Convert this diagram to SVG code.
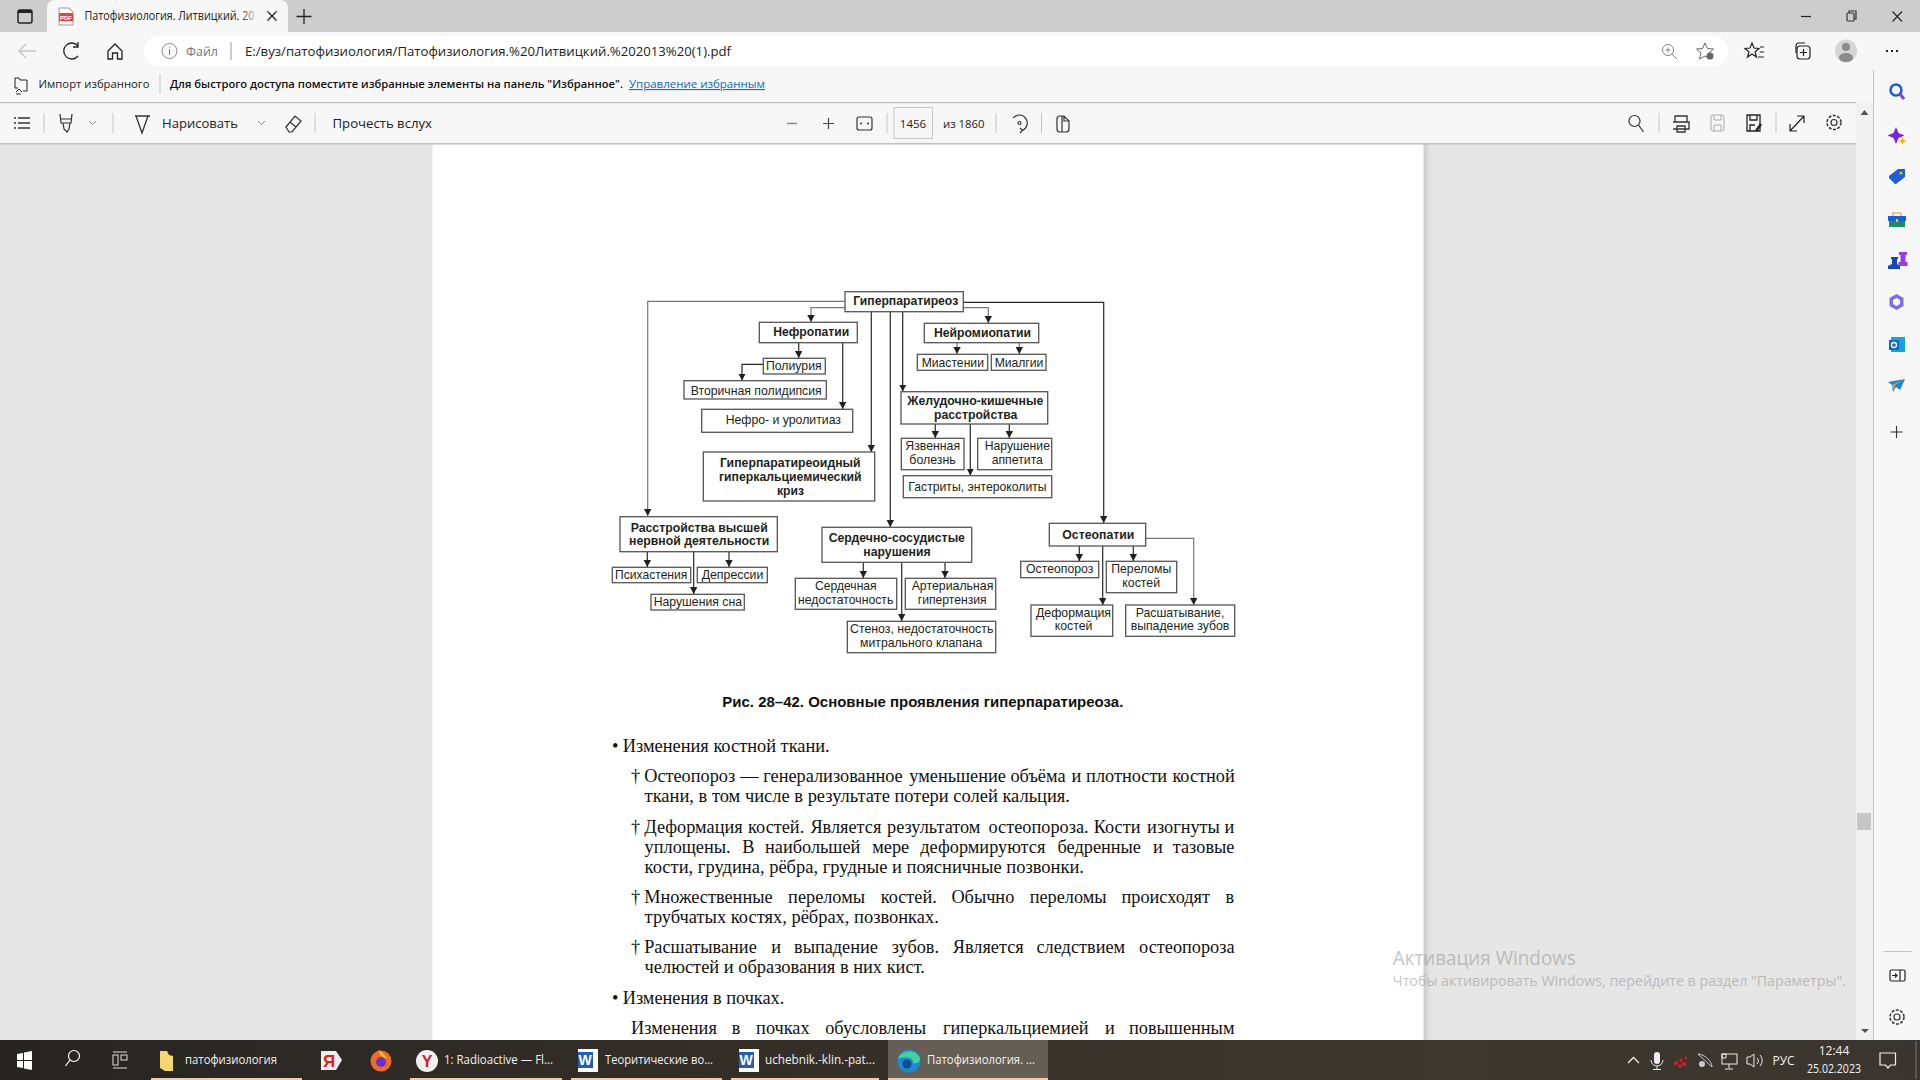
<svg xmlns="http://www.w3.org/2000/svg" width="1920" height="1080" viewBox="0 0 1920 1080">
<defs>
<marker id="ah" markerUnits="userSpaceOnUse" markerWidth="8" markerHeight="8" refX="7" refY="3.7" orient="auto"><path d="M0 0L7 3.7L0 7.4Z" fill="#231f20"/></marker>
<linearGradient id="tb" x1="0" x2="1" y1="0" y2="0"><stop offset="0" stop-color="#262522"/><stop offset=".35" stop-color="#332d26"/><stop offset=".75" stop-color="#3e372d"/><stop offset="1" stop-color="#39352e"/></linearGradient>
<linearGradient id="sh" x1="0" x2="1" y1="0" y2="0"><stop offset="0" stop-color="#c9c9c9"/><stop offset="1" stop-color="#e6e6e6"/></linearGradient>
<linearGradient id="fade" x1="0" x2="1" y1="0" y2="0"><stop offset="0" stop-color="#f7f7f7" stop-opacity="0"/><stop offset="1" stop-color="#f7f7f7"/></linearGradient>
</defs>
<style>
.ui{font-family:"Open Sans","Noto Sans",sans-serif;fill:#222}
.bx{fill:#fff;stroke:#555;stroke-width:1.3}
.n{font-family:"Liberation Sans",Arial,sans-serif;font-size:13px;fill:#231f20;text-anchor:middle}
.b{font-weight:700}
.c{fill:none;stroke:#2a2728;stroke-width:1.2;marker-end:url(#ah)}
.g{stroke:#777}
.t{font-family:"Liberation Serif","Times New Roman",serif;font-size:18.3px;fill:#111}
.ic{fill:none;stroke:#333;stroke-width:1.2}
.sep{stroke:#c4c4c4;stroke-width:1}
.tbt{font-family:"Open Sans","Noto Sans",sans-serif;font-size:12px;fill:#f2f2f2}
.wm{font-family:"Open Sans","Noto Sans",sans-serif;fill:#8f8f8f;opacity:.5}
</style>
<rect width="1920" height="1080" fill="#e6e6e6"/>
<g id="page"><rect x="1423" y="144" width="8" height="896" fill="url(#sh)"/><rect x="432.500" y="144" width="991" height="896" fill="#fff"/></g>
<g id="chrome">
<rect width="1920" height="32" fill="#cdcdcd"/>
<rect y="32" width="1920" height="71" fill="#f7f7f7"/>
<rect y="102" width="1856" height="1.500" fill="#c0c0c0"/>
<rect y="103.500" width="1856" height="40" fill="#f7f7f7"/>
<rect y="143" width="1856" height="1.500" fill="#c0c0c0"/>
<rect x="1856" y="103" width="17.500" height="937" fill="#f1f1f1"/>
<rect x="1857" y="813" width="14" height="17" fill="#c6c6c6"/>
<rect x="1873.500" y="66" width="46.500" height="974" fill="#f7f7f7"/>
<rect x="1873" y="70" width="1" height="970" fill="#c4c4c4"/>
<path d="M47 32V8a8 8 0 0 1 8-8H280a8 8 0 0 1 8 8V32Z" fill="#f7f7f7"/>
<rect x="144" y="36" width="1584" height="30" rx="15" fill="#fff"/>
</g>
<g id="tabbar">
<rect x="18" y="10" width="14" height="13" rx="2" class="ic" style="stroke:#222;stroke-width:1.500"/><rect x="18" y="10" width="14" height="3" fill="#222"/>
<path d="M59 8h10l4 4v13H59Z" fill="#fff" stroke="#999"/><rect x="59" y="13" width="14" height="8" fill="#e8403a"/>
<text x="66" y="20" font-family="Liberation Sans" font-size="6" font-weight="700" fill="#fff" text-anchor="middle">PDF</text>
<text class="ui" x="84.500" y="20" font-size="12" textLength="170" lengthAdjust="spacingAndGlyphs">Патофизиология. Литвицкий. 20</text>
<rect x="240" y="3" width="20" height="28" fill="url(#fade)"/>
<path d="M267.500 11.500l9 9m0-9l-9 9M304 9v15M296.500 16.500h15" stroke="#222" stroke-width="1.300" fill="none"/>
<path d="M1801 16.500h10" stroke="#222" stroke-width="1.200"/><rect x="1847" y="13" width="7" height="8" rx="1" class="ic"/><path d="M1849 13v-2h7v8h-2" class="ic"/><path d="M1892.500 11.500l9.500 10m0-10l-9.500 10" stroke="#222" stroke-width="1.100" fill="none"/>
</g>
<g id="addressbar">
<path d="M36 51H19M26 44l-7 7 7 7" fill="none" stroke="#c8c8c8" stroke-width="1.500"/>
<path d="M78 46a8 8 0 1 0 0 10M78 42v5h-5" class="ic" style="stroke:#222;stroke-width:1.300"/>
<path d="M108 51l7-7 7 7v8h-4.500v-6h-5v6H108Z" class="ic" style="stroke:#222;stroke-width:1.300"/>
<circle cx="169.500" cy="51" r="7.500" fill="none" stroke="#888"/><path d="M169.500 49v6M169.500 46.500v1" stroke="#777"/>
<text class="ui" x="186" y="56" font-size="12.500" style="fill:#777" textLength="32" lengthAdjust="spacingAndGlyphs">Файл</text>
<path d="M231 42v18" stroke="#999"/>
<text class="ui" x="245" y="56" font-size="13" textLength="486" lengthAdjust="spacingAndGlyphs">E:/вуз/патофизиология/Патофизиология.%20Литвицкий.%202013%20(1).pdf</text>
<circle cx="1668" cy="50" r="5.500" fill="none" stroke="#888"/><path d="M1672 54l5 5M1665.500 50h5M1668 47.500v5" stroke="#888"/>
<path d="M1705 43l2.500 5.500 6 .5-4.500 4 1.500 6-5.500-3-5.500 3 1.500-6-4.500-4 6-.5Z" fill="none" stroke="#666"/><circle cx="1710" cy="56" r="3.500" fill="#666"/>
<path d="M1752 43l2 5 5 .5-4 3.500 1.500 5-4.500-3-4.500 3 1.500-5-4-3.500 5-.5ZM1760 47h4M1760 52h4M1758 57h6" fill="none" stroke="#222" stroke-width="1.200"/>
<rect x="1797" y="46" width="13" height="13" rx="3" class="ic" style="stroke:#222"/><path d="M1796 53v-7a3 3 0 0 1 3-3h6M1803.500 49v7M1800 52.500h7" class="ic" style="stroke:#222"/>
<ellipse cx="1846" cy="51" rx="11" ry="11.500" fill="#d6d6d6"/><circle cx="1846" cy="47" r="4" fill="#8a8a8a"/><ellipse cx="1846" cy="57.500" rx="7" ry="4.500" fill="#8a8a8a"/>
<path d="M1886 51h2M1891 51h2M1896 51h2" stroke="#222" stroke-width="1.800"/>
</g>
<g id="favbar">
<path d="M15 80v-2h4l1 2h7v11H23M15 80v8h3M16 92l3-3 3 3M21 94h-5" fill="none" stroke="#222"/>
<text class="ui" x="38.500" y="88" font-size="11" textLength="111" lengthAdjust="spacingAndGlyphs">Импорт избранного</text>
<path d="M160 74v20" class="sep"/>
<text class="ui" x="170" y="88" font-size="11" font-weight="600" textLength="453" lengthAdjust="spacingAndGlyphs" style="fill:#111">Для быстрого доступа поместите избранные элементы на панель "Избранное".</text>
<text class="ui" x="629" y="88" font-size="11" textLength="136" lengthAdjust="spacingAndGlyphs" text-decoration="underline" style="fill:#0f6cbd">Управление избранным</text>
</g>
<g id="pdfbar">
<path d="M14 118h2M14 123h2M14 128h2M18 118h12M18 123h12M18 128h12" stroke="#333" stroke-width="1.300"/>
<path d="M44 113v20M113 113v20M315 113v20M887 113v20M996 113v20M1041.500 113v20M1659 113v20M1776 113v20" class="sep"/>
<path d="M60 114l1 9h10l1-9M60 119h12M63 123l1 6 3 3 2-3 1-6" class="ic"/>
<path d="M89 121l3.500 3.500L96 121M258 121l3.500 3.500L265 121" fill="none" stroke="#888"/>
<text class="ui" x="162" y="127.500" font-size="13" textLength="76" lengthAdjust="spacingAndGlyphs">Нарисовать</text>
<path d="M135 116h15M136 116l6 17 6-17" class="ic" style="stroke-width:1.300"/>
<path d="M286 127l9-11 6 5-9 11h-3ZM290 122l6 5" class="ic"/>
<text class="ui" x="332.500" y="127.500" font-size="13" textLength="99.500" lengthAdjust="spacingAndGlyphs">Прочесть вслух</text>
<path d="M787 123.500h10" stroke="#888" stroke-width="1.500"/><path d="M823 123.500h11M828.500 118v11" stroke="#444" stroke-width="1.200"/>
<rect x="857" y="117" width="15" height="13" rx="2" class="ic"/><path d="M860 123.500h2M867 123.500h2" stroke="#333" stroke-width="1.500"/>
<rect x="894" y="107.500" width="38.500" height="31" fill="#f7f7f7" stroke="#c8c8c8"/>
<text class="ui" x="913" y="127.500" font-size="11.500" text-anchor="middle">1456</text>
<text class="ui" x="943" y="127.500" font-size="11.500" textLength="41.500" lengthAdjust="spacingAndGlyphs">из 1860</text>
<path d="M1013 118a8 8 0 1 1 9 12.500M1020 128l2.500 2.500-2.500 2.500" class="ic"/><circle cx="1019.500" cy="123" r="1.500" class="ic"/>
<path d="M1057 119a3 3 0 0 1 3-3h4l5 5v8a3 3 0 0 1-3 3h-6a3 3 0 0 1-3-3ZM1062 116v16M1064 116v5h5" class="ic"/>
<circle cx="1634.500" cy="121" r="5.500" class="ic"/><path d="M1638.500 125l5 7" class="ic"/>
<path d="M1675 122v-6h12v6M1673 122h16v7h-16M1677 126h8v6h-8Z" class="ic" style="stroke-width:1.300"/>
<rect x="1711" y="115" width="13" height="16" rx="2" fill="none" stroke="#aaa"/><path d="M1714 115v5h7v-5M1714 131v-6h7v6" fill="none" stroke="#aaa"/>
<path d="M1747 115h13v16h-13ZM1750 115v5h7v-5M1750 131v-6h5" class="ic" style="stroke:#222;stroke-width:1.300"/><path d="M1756 131l5-7" stroke="#222" stroke-width="2.500"/>
<path d="M1790 131l14-15M1804 116v7M1797 116h7M1790 124v7h7" class="ic" style="stroke:#222"/>
<circle cx="1834" cy="122.500" r="3" class="ic"/><circle cx="1834" cy="122.500" r="7" fill="none" stroke="#333" stroke-width="1.500" stroke-dasharray="3 1.500"/>
<path d="M1860.500 115l4-5 4 5ZM1861 1029h8l-4 4Z" fill="#555"/>
</g>
<g id="sidebar">
<circle cx="1896" cy="90" r="5.500" fill="none" stroke="#1a5fd0" stroke-width="2.500"/><path d="M1900 94l4 5" stroke="#8a3fd0" stroke-width="3"/>
<path d="M1896 127l2.500 6 6 2.500-6 2.500-2.500 6-2.500-6-6-2.500 6-2.500Z" fill="#7a22e8"/><path d="M1902.500 137l1.200 2.800 2.800 1.200-2.800 1.200-1.200 2.800-1.200-2.800-2.800-1.200 2.800-1.200Z" fill="#f4b400"/>
<path d="M1889 176l9-7h7v8l-9 7h-1l-6-6Z" fill="#1b5fd0"/><circle cx="1901" cy="173" r="1.500" fill="#f4c430"/>
<rect x="1889" y="216" width="16" height="11" fill="#1d8a6b"/><rect x="1888" y="216" width="18" height="5" fill="#1b5fd0"/><path d="M1893 216v-3h8v3" fill="none" stroke="#e8a020" stroke-width="1.200"/><rect x="1896" y="219" width="2" height="3" fill="#f4c430"/>
<path d="M1888 269h12v-3l-3-2v-5h1v-2h-7v2h1v5l-4 2Z" fill="#1745c0"/><path d="M1899 252h8v3h-1.500v7h2v4h-9v-4h2v-7H1899Z" fill="#9a3ce0"/>
<path d="M1896.500 294l7 4v8l-7 4-7-4v-8Z" fill="#7f6fe0"/><path d="M1896.500 298l3.500 2v4l-3.500 2-3.500-2v-4Z" fill="#f7f7f7"/>
<rect x="1891" y="337" width="14" height="15" fill="#1aa0e0"/><rect x="1889" y="340" width="10" height="10" fill="#0f6cc0"/><circle cx="1894" cy="345" r="2.500" fill="none" stroke="#fff" stroke-width="1.300"/>
<path d="M1888 382l17-3-5 11-4-3-3 5-1-7Z" fill="#1a88d8"/><path d="M1892 385l13-6-10 6-1 5Z" fill="#f0a020"/>
<path d="M1890.500 432h12M1896.500 426v12" stroke="#333" stroke-width="1.100"/>
<path d="M1883.500 951.500h28" stroke="#c0c0c0"/>
<rect x="1890" y="970" width="15" height="11" rx="1.500" class="ic" style="stroke:#222"/><path d="M1900 970v11M1892 975.500h5M1895 973.500l2 2-2 2" class="ic" style="stroke:#222"/>
<circle cx="1897" cy="1017" r="3" class="ic"/><circle cx="1897" cy="1017" r="7" fill="none" stroke="#333" stroke-width="1.500" stroke-dasharray="3 1.500"/>
</g>
<g id="connectors">
<path class="c g" d="M845 301.300H647.700V516"/>
<path class="c g" d="M845 307.700H811V322"/>
<path class="c" d="M871.300 311.700V452"/>
<path class="c" d="M890.300 311.700V527"/>
<path class="c" d="M902.700 311.700V391.500"/>
<path class="c g" d="M963.300 307.700H988.300V323"/>
<path class="c" d="M963.300 302.300H1103.700V523"/>
<path class="c" d="M798.700 342.700V358"/>
<path class="c" d="M842.700 342.700V409"/>
<path class="c" d="M763.300 364.300H742V380.500"/>
<path class="c g" d="M957 342.700V354"/>
<path class="c g" d="M1019.300 342.700V354"/>
<path class="c" d="M935.300 424V438"/>
<path class="c" d="M1009.300 424V438"/>
<path class="c" d="M970.300 424V475.500"/>
<path class="c" d="M647.300 551.700V567"/>
<path class="c" d="M729 551.700V567"/>
<path class="c" d="M693.700 551.700V594"/>
<path class="c" d="M863.300 562.300V578"/>
<path class="c" d="M945 562.300V578"/>
<path class="c" d="M901.700 562.300V621"/>
<path class="c" d="M1079.300 546V561"/>
<path class="c" d="M1133.300 546V561"/>
<path class="c" d="M1102.700 546V605"/>
<path class="c g" d="M1145.700 538.300H1193.700V605"/>
</g>
<g id="n-root"><rect class="bx" x="845" y="291.700" width="118.300" height="20"/><text class="n b" x="905.700" y="305" textLength="105" lengthAdjust="spacingAndGlyphs">Гиперпаратиреоз</text></g>
<g id="n-nephro"><rect class="bx" x="759.300" y="322.300" width="98" height="20.400"/><text class="n b" x="811.200" y="335.700" textLength="76" lengthAdjust="spacingAndGlyphs">Нефропатии</text></g>
<g id="n-poly"><rect class="bx" x="763.300" y="358.300" width="62" height="15.700"/><text class="n" x="793.800" y="370" textLength="55.700" lengthAdjust="spacingAndGlyphs">Полиурия</text></g>
<g id="n-polyd"><rect class="bx" x="684" y="380.700" width="142.300" height="18.300"/><text class="n" x="756.200" y="395" textLength="131" lengthAdjust="spacingAndGlyphs">Вторичная полидипсия</text></g>
<g id="n-uro"><rect class="bx" x="701.700" y="409.300" width="151" height="23"/><text class="n" x="783.300" y="424.300" textLength="115.300" lengthAdjust="spacingAndGlyphs">Нефро- и уролитиаз</text></g>
<g id="n-crisis"><rect class="bx" x="703.300" y="452" width="171.400" height="49"/><text class="n b" x="790.300" y="467.300" textLength="140.700" lengthAdjust="spacingAndGlyphs">Гиперпаратиреоидный</text><text class="n b" x="790.300" y="481.300" textLength="142.700" lengthAdjust="spacingAndGlyphs">гиперкальциемический</text><text class="n b" x="790.500" y="495" textLength="27" lengthAdjust="spacingAndGlyphs">криз</text></g>
<g id="n-neuro"><rect class="bx" x="924.300" y="323.300" width="114.400" height="19.400"/><text class="n b" x="982.500" y="337.300" textLength="97" lengthAdjust="spacingAndGlyphs">Нейромиопатии</text></g>
<g id="n-myast"><rect class="bx" x="917.300" y="354.300" width="70.400" height="16"/><text class="n" x="952.800" y="366.700" textLength="62.300" lengthAdjust="spacingAndGlyphs">Миастении</text></g>
<g id="n-myalg"><rect class="bx" x="991.300" y="354.300" width="54.700" height="16"/><text class="n" x="1019" y="366.700" textLength="48.700" lengthAdjust="spacingAndGlyphs">Миалгии</text></g>
<g id="n-git"><rect class="bx" x="901" y="391.700" width="146.700" height="32.300"/><text class="n b" x="975.300" y="405" textLength="136" lengthAdjust="spacingAndGlyphs">Желудочно-кишечные</text><text class="n b" x="975.700" y="419" textLength="83.300" lengthAdjust="spacingAndGlyphs">расстройства</text></g>
<g id="n-ulcer"><rect class="bx" x="901.300" y="438.300" width="62.700" height="31.400"/><text class="n" x="932.700" y="450" textLength="54.700" lengthAdjust="spacingAndGlyphs">Язвенная</text><text class="n" x="932.500" y="464.300" textLength="46.300" lengthAdjust="spacingAndGlyphs">болезнь</text></g>
<g id="n-appet"><rect class="bx" x="977.700" y="438.300" width="74" height="31.400"/><text class="n" x="1017.300" y="450" textLength="65.300" lengthAdjust="spacingAndGlyphs">Нарушение</text><text class="n" x="1017.300" y="464.300" textLength="51.300" lengthAdjust="spacingAndGlyphs">аппетита</text></g>
<g id="n-gastr"><rect class="bx" x="903.300" y="475.700" width="148.400" height="22"/><text class="n" x="977.500" y="491" textLength="138.300" lengthAdjust="spacingAndGlyphs">Гастриты, энтероколиты</text></g>
<g id="n-cns"><rect class="bx" x="620" y="516.700" width="157.300" height="35"/><text class="n b" x="699.200" y="532.300" textLength="137" lengthAdjust="spacingAndGlyphs">Расстройства высшей</text><text class="n b" x="699.200" y="545.300" textLength="140.300" lengthAdjust="spacingAndGlyphs">нервной деятельности</text></g>
<g id="n-psych"><rect class="bx" x="612.300" y="567.300" width="78.400" height="15.400"/><text class="n" x="651.200" y="579.300" textLength="72.300" lengthAdjust="spacingAndGlyphs">Психастения</text></g>
<g id="n-depr"><rect class="bx" x="697.300" y="567.300" width="70" height="15.400"/><text class="n" x="732.500" y="579.300" textLength="61.700" lengthAdjust="spacingAndGlyphs">Депрессии</text></g>
<g id="n-sleep"><rect class="bx" x="651" y="594.300" width="93.300" height="15.700"/><text class="n" x="697.800" y="606" textLength="88.300" lengthAdjust="spacingAndGlyphs">Нарушения сна</text></g>
<g id="n-cv"><rect class="bx" x="822" y="527.300" width="149.700" height="35"/><text class="n b" x="896.800" y="541.700" textLength="136.300" lengthAdjust="spacingAndGlyphs">Сердечно-сосудистые</text><text class="n b" x="897" y="556" textLength="67.300" lengthAdjust="spacingAndGlyphs">нарушения</text></g>
<g id="n-hf"><rect class="bx" x="795.300" y="578.300" width="101.400" height="31"/><text class="n" x="845.800" y="590" textLength="61.700" lengthAdjust="spacingAndGlyphs">Сердечная</text><text class="n" x="845.700" y="604" textLength="95.300" lengthAdjust="spacingAndGlyphs">недостаточность</text></g>
<g id="n-ah"><rect class="bx" x="905.300" y="578.300" width="90.400" height="31"/><text class="n" x="952.500" y="590" textLength="81.700" lengthAdjust="spacingAndGlyphs">Артериальная</text><text class="n" x="952.200" y="604" textLength="69" lengthAdjust="spacingAndGlyphs">гипертензия</text></g>
<g id="n-mitral"><rect class="bx" x="847.300" y="621.300" width="148.400" height="31.400"/><text class="n" x="921.700" y="632.700" textLength="143.300" lengthAdjust="spacingAndGlyphs">Стеноз, недостаточность</text><text class="n" x="921.200" y="646.700" textLength="122.300" lengthAdjust="spacingAndGlyphs">митрального клапана</text></g>
<g id="n-osteo"><rect class="bx" x="1049.300" y="523.300" width="96.400" height="22.700"/><text class="n b" x="1098.300" y="539" textLength="72" lengthAdjust="spacingAndGlyphs">Остеопатии</text></g>
<g id="n-osteop"><rect class="bx" x="1020.700" y="561.300" width="78" height="16.400"/><text class="n" x="1059.700" y="573" textLength="67.300" lengthAdjust="spacingAndGlyphs">Остеопороз</text></g>
<g id="n-fract"><rect class="bx" x="1106.300" y="561.300" width="70.400" height="31.400"/><text class="n" x="1141.300" y="573" textLength="60" lengthAdjust="spacingAndGlyphs">Переломы</text><text class="n" x="1141.200" y="587" textLength="37.700" lengthAdjust="spacingAndGlyphs">костей</text></g>
<g id="n-deform"><rect class="bx" x="1031" y="605" width="81.700" height="31.300"/><text class="n" x="1073.500" y="617" textLength="75" lengthAdjust="spacingAndGlyphs">Деформация</text><text class="n" x="1073.500" y="630" textLength="37.700" lengthAdjust="spacingAndGlyphs">костей</text></g>
<g id="n-teeth"><rect class="bx" x="1125.700" y="605" width="109" height="31.300"/><text class="n" x="1180" y="617" textLength="88.700" lengthAdjust="spacingAndGlyphs">Расшатывание,</text><text class="n" x="1180" y="630" textLength="98.700" lengthAdjust="spacingAndGlyphs">выпадение зубов</text></g>
<g id="caption"><text x="722.300" y="706.700" font-family="Liberation Sans,Arial,sans-serif" font-size="14" font-weight="700" fill="#111" textLength="401" lengthAdjust="spacingAndGlyphs">Рис. 28–42. Основные проявления гиперпаратиреоза.</text></g>
<g id="body">
<text class="t" x="612" y="752">•</text><text class="t" x="622.700" y="752" textLength="207" lengthAdjust="spacingAndGlyphs">Изменения костной ткани.</text>
<text class="t" x="631" y="782">†</text>
<text class="t" y="782"><tspan x="644.200">Остеопороз</tspan> <tspan x="740.200">—</tspan> <tspan x="763.300">генерализованное</tspan> <tspan x="909.300">уменьшение</tspan> <tspan x="1010.400">объёма</tspan> <tspan x="1071.400">и</tspan> <tspan x="1086.100">плотности</tspan> <tspan x="1172.400">костной</tspan></text>
<text class="t" x="644.600" y="802" textLength="425.400" lengthAdjust="spacingAndGlyphs">ткани, в том числе в результате потери солей кальция.</text>
<text class="t" x="631" y="833">†</text>
<text class="t" y="833"><tspan x="644.200">Деформация</tspan> <tspan x="748.100">костей.</tspan> <tspan x="810.400">Является</tspan> <tspan x="887">результатом</tspan> <tspan x="988.500">остеопороза.</tspan> <tspan x="1093.700">Кости</tspan> <tspan x="1147.100">изогнуты</tspan> <tspan x="1224.600">и</tspan></text>
<text class="t" y="853"><tspan x="644.600">уплощены.</tspan> <tspan x="742.300">В</tspan> <tspan x="765">наибольшей</tspan> <tspan x="872.300">мере</tspan> <tspan x="920.300">деформируются</tspan> <tspan x="1057.500">бедренные</tspan> <tspan x="1153">и</tspan> <tspan x="1172.800">тазовые</tspan></text>
<text class="t" x="644.600" y="873" textLength="439.400" lengthAdjust="spacingAndGlyphs">кости, грудина, рёбра, грудные и поясничные позвонки.</text>
<text class="t" x="631" y="903">†</text>
<text class="t" y="903"><tspan x="644.200">Множественные</tspan> <tspan x="788.100">переломы</tspan> <tspan x="880.700">костей.</tspan> <tspan x="951.400">Обычно</tspan> <tspan x="1029.700">переломы</tspan> <tspan x="1121.500">происходят</tspan> <tspan x="1225.400">в</tspan></text>
<text class="t" x="644.600" y="923" textLength="294.200" lengthAdjust="spacingAndGlyphs">трубчатых костях, рёбрах, позвонках.</text>
<text class="t" x="631" y="953">†</text>
<text class="t" y="953"><tspan x="644.200">Расшатывание</tspan> <tspan x="771.300">и</tspan> <tspan x="794">выпадение</tspan> <tspan x="891.700">зубов.</tspan> <tspan x="952.700">Является</tspan> <tspan x="1036.500">следствием</tspan> <tspan x="1139.100">остеопороза</tspan></text>
<text class="t" x="644.600" y="973" textLength="280.300" lengthAdjust="spacingAndGlyphs">челюстей и образования в них кист.</text>
<text class="t" x="612" y="1004">•</text><text class="t" x="622.700" y="1004" textLength="161.600" lengthAdjust="spacingAndGlyphs">Изменения в почках.</text>
<text class="t" y="1034"><tspan x="631.100">Изменения</tspan> <tspan x="731.700">в</tspan> <tspan x="756.100">почках</tspan> <tspan x="825.200">обусловлены</tspan> <tspan x="943">гиперкальциемией</tspan> <tspan x="1105">и</tspan> <tspan x="1129">повышенным</tspan></text>
</g>
<g id="watermark">
<text class="wm" x="1392.800" y="965" font-size="20" textLength="183" lengthAdjust="spacingAndGlyphs">Активация Windows</text>
<text class="wm" x="1392.800" y="986" font-size="14" textLength="453" lengthAdjust="spacingAndGlyphs">Чтобы активировать Windows, перейдите в раздел "Параметры".</text>
</g>
<g id="taskbar">
<rect y="1040" width="1920" height="40" fill="url(#tb)"/>
<rect x="888" y="1040" width="160" height="40" fill="#655e55"/>
<path d="M151 1079h151M410 1079h152M571 1079h151M731 1079h148M888 1079h160" stroke="#f3c9a9" stroke-width="2"/>
<path d="M17 1054l6-1v7h-6ZM24 1052.500l8-1.500v9h-8ZM17 1061h6v7l-6-1ZM24 1061h8v9l-8-1.500Z" fill="#fff"/>
<circle cx="74" cy="1056" r="5.500" fill="none" stroke="#fff" stroke-width="1.200"/><path d="M70 1060l-4.500 6" stroke="#fff" stroke-width="1.200"/>
<path d="M113 1052h14M113 1068h14" stroke="#ddd"/><rect x="113" y="1055" width="5" height="10" fill="none" stroke="#ddd"/><rect x="121" y="1055" width="6" height="5" fill="none" stroke="#ddd"/>
<path d="M160 1051h7l2 4 4 1v15h-8l-5-3Z" fill="#f5d76e"/>
<text class="tbt" x="185" y="1064" textLength="92" lengthAdjust="spacingAndGlyphs">патофизиология</text>
<path d="M321 1051h15l6 9-6 10h-15Z" fill="#eee"/><text x="329" y="1067" font-family="Liberation Sans" font-size="17" font-weight="700" fill="#e02020" text-anchor="middle">Я</text>
<circle cx="381" cy="1061" r="10.500" fill="#f06a24"/><circle cx="381" cy="1062" r="5" fill="#6a2fd0"/><path d="M378 1050c4 2 8 5 9 9l-6-3Z" fill="#f8c030"/>
<circle cx="427" cy="1061" r="11" fill="#f0f0f0"/><text x="427" y="1067" font-family="Liberation Sans" font-size="16" font-weight="700" fill="#d02020" text-anchor="middle">Y</text>
<text class="tbt" x="444" y="1064" textLength="109" lengthAdjust="spacingAndGlyphs">1: Radioactive — Fl...</text>
<rect x="578" y="1049" width="20" height="23" fill="#fff"/><rect x="578" y="1052" width="15" height="16" fill="#1f5fb4"/><text x="585" y="1065" font-family="Liberation Sans" font-size="14" font-weight="700" fill="#fff" text-anchor="middle">W</text>
<text class="tbt" x="605" y="1064" textLength="108" lengthAdjust="spacingAndGlyphs">Теоритические во...</text>
<rect x="739" y="1049" width="20" height="23" fill="#fff"/><rect x="739" y="1052" width="15" height="16" fill="#1f5fb4"/><text x="746" y="1065" font-family="Liberation Sans" font-size="14" font-weight="700" fill="#fff" text-anchor="middle">W</text>
<text class="tbt" x="765" y="1064" textLength="110" lengthAdjust="spacingAndGlyphs">uchebnik.-klin.-pat...</text>
<circle cx="909" cy="1061" r="11.500" fill="#1b8ad0"/><path d="M898 1059c3-9 17-11 22-1 1 4-3 6-7 5 1-5-6-7-15-4Z" fill="#45d0a0"/><circle cx="907" cy="1064" r="4.500" fill="#0f4f90"/>
<text class="tbt" x="927" y="1064" textLength="108" lengthAdjust="spacingAndGlyphs">Патофизиология. ...</text>
<path d="M1628 1063l5.500-5.500 5.500 5.500" fill="none" stroke="#eee" stroke-width="1.300"/>
<rect x="1654" y="1052" width="6" height="12" rx="3" fill="#eee"/><path d="M1651 1060a6 6 0 0 0 12 0M1657 1066v3M1653 1069.500h8" fill="none" stroke="#eee"/>
<circle cx="1681" cy="1060" r="1.800" fill="#d81f26"/><circle cx="1676" cy="1063" r="2" fill="#d81f26"/><circle cx="1684" cy="1064" r="2" fill="#d81f26"/><circle cx="1680" cy="1066" r="1.800" fill="#d81f26"/><circle cx="1686" cy="1058" r="1.400" fill="#d81f26"/>
<path d="M1698 1054c6 0 14 7 14 13Z" fill="#333" stroke="#ccc"/><circle cx="1702" cy="1064" r="3" fill="#ccc"/>
<rect x="1722" y="1054" width="15" height="10" fill="none" stroke="#eee"/><path d="M1729 1064v4M1725 1069h8M1722 1054h4v4h-4Z" fill="none" stroke="#eee"/>
<path d="M1747 1057h3l4-3v13l-4-3h-3ZM1757 1058a4 4 0 0 1 0 6M1760 1055a8 8 0 0 1 0 11" fill="none" stroke="#eee"/>
<text class="tbt" x="1783.500" y="1064.500" text-anchor="middle" font-size="11.500" textLength="22" lengthAdjust="spacingAndGlyphs">РУС</text>
<text class="tbt" x="1834" y="1055" text-anchor="middle" font-size="11.500">12:44</text>
<text class="tbt" x="1834" y="1072.500" text-anchor="middle" font-size="11.500" textLength="54" lengthAdjust="spacingAndGlyphs">25.02.2023</text>
<path d="M1880 1053h15.500v12h-5l-2.500 3-2.500-3H1880Z" fill="none" stroke="#eee" stroke-width="1.200"/>
<path d="M1916 1041v38" stroke="#777"/>
</g>
</svg>
